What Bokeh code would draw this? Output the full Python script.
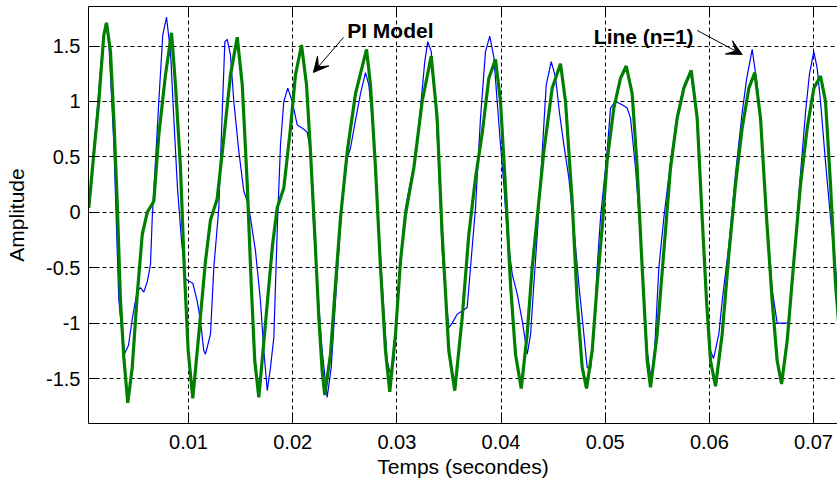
from bokeh.plotting import figure
from bokeh.models import Range1d, LinearAxis, FixedTicker, Arrow, VeeHead, Label
from bokeh.embed import file_html
from bokeh.resources import INLINE

# ---- data (time in milliseconds, amplitude) ----
pi_model_t_ms = [
    0.43, 0.91, 1.39, 1.87, 2.13, 2.51, 2.83, 3.16, 3.47, 3.79,
    4.17, 4.60, 5.08, 5.56, 6.04, 6.67, 7.15, 7.79, 8.37, 8.75,
    9.23, 9.62, 9.97, 10.41, 10.99, 11.63, 12.11, 12.75, 13.39, 14.03,
    14.68, 15.16, 15.64, 16.02, 16.36, 16.75, 17.39, 18.06, 18.51, 19.15,
    19.79, 20.27, 20.85, 21.33, 21.71, 22.12, 22.51, 22.83, 23.08, 23.63,
    24.11, 24.59, 25.24, 26.03, 27.09, 27.47, 27.95, 28.43, 28.91, 29.32,
    29.87, 30.35, 30.83, 31.63, 32.43, 33.30, 33.87, 34.35, 34.99, 35.56,
    36.27, 36.91, 37.55, 38.19, 38.83, 39.47, 39.95, 40.43, 40.91, 41.39,
    41.94, 42.51, 42.99, 43.63, 44.11, 44.91, 45.71, 46.19, 46.83, 47.31,
    47.79, 48.21, 48.75, 49.23, 49.71, 50.19, 50.83, 51.47, 52.02, 52.59,
    53.07, 53.55, 54.03, 54.35, 54.99, 55.63, 56.27, 56.91, 57.55, 58.26,
    58.83, 59.31, 59.73, 60.11, 60.59, 61.23, 61.87, 62.51, 63.15, 63.79,
    64.36, 64.91, 65.49, 66.03, 66.51, 66.93, 67.47, 68.11, 68.75, 69.39,
    70.03, 70.67, 71.15, 71.63, 72.11, 72.59,
]
pi_model_amp = [
    0.04, 0.53, 1.00, 1.60, 1.71, 1.45, 0.85, 0.08, -0.80, -1.31,
    -1.72, -1.40, -0.74, -0.20, 0.00, 0.10, 0.70, 1.24, 1.62, 1.15,
    0.40, -0.56, -1.25, -1.68, -1.10, -0.44, -0.07, 0.12, 0.67, 1.24,
    1.58, 1.15, 0.25, -0.65, -1.34, -1.67, -1.00, -0.30, 0.04, 0.22,
    0.76, 1.24, 1.51, 1.15, 0.55, -0.20, -0.95, -1.43, -1.65, -1.28,
    -0.65, -0.05, 0.55, 1.07, 1.47, 1.15, 0.40, -0.50, -1.25, -1.62,
    -1.10, -0.44, -0.02, 0.40, 1.00, 1.41, 0.85, -0.20, -1.25, -1.61,
    -0.95, -0.20, 0.31, 0.71, 1.21, 1.38, 1.00, 0.22, -0.65, -1.28,
    -1.59, -1.10, -0.50, 0.10, 0.55, 1.12, 1.34, 1.00, 0.10, -0.80,
    -1.40, -1.59, -1.25, -0.65, -0.14, 0.47, 0.94, 1.21, 1.32, 1.07,
    0.40, -0.50, -1.34, -1.58, -1.10, -0.35, 0.40, 0.85, 1.12, 1.28,
    0.85, -0.05, -0.80, -1.34, -1.57, -1.10, -0.38, 0.25, 0.76, 1.12,
    1.26, 0.85, -0.05, -0.80, -1.34, -1.55, -1.16, -0.44, 0.25, 0.76,
    1.12, 1.23, 1.00, 0.25, -0.65, -1.20,
]

line_n1_t_ms = [
    0.43, 0.88, 1.24, 1.65, 2.03, 2.32, 2.83, 3.31, 3.62, 3.90,
    4.24, 4.62, 5.08, 5.39, 5.71, 6.06, 6.35, 6.52, 6.83, 7.15,
    7.53, 7.89, 8.27, 8.59, 8.92, 9.33, 9.71, 10.00, 10.41, 10.83,
    11.15, 11.47, 11.63, 12.11, 12.43, 12.91, 13.24, 13.49, 13.72, 14.03,
    14.35, 14.83, 15.31, 15.64, 15.95, 16.43, 16.91, 17.23, 17.56, 17.87,
    18.19, 18.54, 18.83, 19.15, 19.53, 19.96, 20.43, 21.07, 21.40, 21.71,
    21.97, 22.36, 22.83, 23.31, 23.70, 24.11, 24.43, 24.76, 25.24, 25.55,
    26.03, 26.51, 26.99, 27.31, 27.63, 28.11, 28.59, 29.07, 29.39, 29.71,
    30.03, 30.51, 30.83, 31.31, 31.79, 32.27, 32.68, 32.97, 33.30, 33.71,
    34.03, 34.35, 34.67, 34.99, 35.31, 35.79, 36.27, 36.75, 37.07, 37.55,
    38.03, 38.51, 38.92, 39.31, 39.63, 39.95, 40.27, 40.60, 41.08, 41.56,
    42.04, 42.52, 42.84, 43.15, 43.48, 43.96, 44.34, 44.82, 45.23, 45.61,
    46.03, 46.51, 46.99, 47.47, 47.95, 48.27, 48.59, 48.91, 49.23, 49.55,
    49.87, 50.19, 50.51, 50.99, 51.63, 52.11, 52.43, 52.91, 53.39, 53.71,
    54.03, 54.42, 54.74, 55.15, 55.63, 56.27, 56.91, 57.55, 58.19, 58.83,
    59.31, 59.73, 60.11, 60.40, 60.91, 61.23, 61.87, 62.51, 63.15, 63.57,
    64.11, 64.59, 64.91, 65.49, 66.03, 66.51, 66.93, 67.60, 68.11, 68.75,
    69.23, 69.61, 70.03, 70.35, 70.67, 71.15, 71.63, 72.11, 72.59,
]
line_n1_amp = [
    0.04, 0.55, 0.93, 1.40, 1.70, 1.60, 0.62, -0.79, -1.10, -1.27,
    -1.20, -0.95, -0.71, -0.68, -0.72, -0.62, -0.47, -0.05, 0.46, 1.00,
    1.60, 1.76, 1.45, 0.85, 0.25, -0.26, -0.60, -0.62, -0.64, -0.80,
    -0.98, -1.25, -1.28, -1.10, -0.50, 0.04, 0.91, 1.54, 1.56, 1.42,
    1.00, 0.55, 0.19, 0.10, -0.05, -0.35, -0.80, -1.25, -1.61, -1.40,
    -1.13, -0.10, 0.61, 1.00, 1.12, 1.00, 0.79, 0.75, 0.72, 0.55,
    -0.05, -0.65, -1.25, -1.67, -1.40, -0.80, -0.35, 0.10, 0.49, 0.58,
    0.83, 1.07, 1.26, 1.15, 0.85, 0.10, -0.65, -1.34, -1.46, -1.34,
    -0.80, -0.26, 0.04, 0.28, 0.49, 0.94, 1.36, 1.54, 1.45, 1.00,
    0.40, -0.35, -0.74, -1.04, -1.00, -0.92, -0.89, -0.86, -0.50, 0.04,
    0.85, 1.45, 1.59, 1.40, 1.00, 0.61, 0.25, -0.20, -0.56, -0.74,
    -0.98, -1.28, -1.10, -0.65, -0.20, 0.55, 1.15, 1.36, 1.22, 0.90,
    0.61, 0.31, -0.14, -0.65, -1.10, -1.40, -1.42, -1.10, -0.50, -0.05,
    0.25, 0.55, 0.94, 1.00, 0.97, 0.94, 0.85, 0.40, -0.20, -0.74,
    -1.25, -1.52, -1.25, -0.50, -0.05, 0.45, 0.88, 1.14, 1.28, 0.85,
    -0.05, -0.80, -1.25, -1.32, -1.10, -0.80, -0.30, 0.35, 0.90, 1.20,
    1.47, 1.15, 0.85, -0.05, -0.70, -1.00, -1.00, -1.00, -0.44, 0.35,
    0.90, 1.25, 1.45, 1.30, 1.00, 0.45, -0.05, -0.50, -1.00,
]

x_ticks = [0.01, 0.02, 0.03, 0.04, 0.05, 0.06, 0.07]
x_tick_labels = ["0.01", "0.02", "0.03", "0.04", "0.05", "0.06", "0.07"]
y_ticks = [-1.5, -1.0, -0.5, 0.0, 0.5, 1.0, 1.5]
y_tick_labels = ["-1.5", "-1", "-0.5", "0", "0.5", "1", "1.5"]

x_label = "Temps (secondes)"
y_label = "Amplitude"
pi_text = "PI Model"
line_text = "Line (n=1)"

# annotation anchors (data coordinates)
pi_text_pos = (0.02523, 1.64)
pi_arrow = (0.02488, 1.578, 0.02199, 1.262)
line_text_pos = (0.04891, 1.59)
line_arrow = (0.05883, 1.641, 0.06315, 1.424)

X_RANGE = (0.00040, 0.07230)
Y_RANGE = (-1.906, 1.857)

FONT = "Liberation Sans"

pi_t = [v / 1000.0 for v in pi_model_t_ms]
line_t = [v / 1000.0 for v in line_n1_t_ms]

p = figure(width=837, height=486, output_backend="svg", toolbar_location=None,
           x_range=Range1d(*X_RANGE), y_range=Range1d(*Y_RANGE),
           min_border_left=88, min_border_right=0, min_border_top=6,
           min_border_bottom=63)
p.outline_line_color = None
p.background_fill_color = "white"
p.border_fill_color = "white"

# grid
p.xgrid.ticker = FixedTicker(ticks=x_ticks)
p.ygrid.ticker = FixedTicker(ticks=y_ticks)
p.grid.grid_line_color = "black"
p.grid.grid_line_dash = "4 3"
p.grid.grid_line_width = 1

# data lines
p.line(line_t, line_n1_amp, line_color="#0000ff", line_width=1.2)
p.line(pi_t, pi_model_amp, line_color="#008000", line_width=3.2)

# axes
for ax, ticks, labels in ((p.xaxis[0], x_ticks, x_tick_labels),
                          (p.yaxis[0], y_ticks, y_tick_labels)):
    ax.ticker = FixedTicker(ticks=ticks)
    ax.major_label_overrides = {t: l for t, l in zip(ticks, labels)}
    ax.major_tick_in = 11
    ax.major_tick_out = 0
    ax.minor_tick_line_color = None
    ax.axis_line_color = "black"
    ax.major_tick_line_color = "black"
    ax.major_label_text_font = FONT
    ax.major_label_text_font_size = "20px"
    ax.major_label_text_color = "black"
    ax.axis_label_text_font = FONT
    ax.axis_label_text_font_size = "21px"
    ax.axis_label_text_font_style = "normal"
    ax.axis_label_text_color = "black"

p.xaxis[0].axis_label = x_label
p.xaxis[0].major_label_standoff = 11
p.xaxis[0].axis_label_standoff = 3
p.yaxis[0].axis_label = y_label
p.yaxis[0].major_label_standoff = 8
p.yaxis[0].axis_label_standoff = 15

top_axis = LinearAxis(ticker=FixedTicker(ticks=x_ticks), major_tick_in=9,
                      major_tick_out=0, minor_tick_line_color=None,
                      major_label_overrides={t: "" for t in x_ticks},
                      major_label_standoff=0,
                      axis_line_color="black", major_tick_line_color="black")
p.add_layout(top_axis, "above")

# annotations
p.add_layout(Label(x=pi_text_pos[0], y=pi_text_pos[1], text=pi_text,
                   text_font=FONT, text_font_style="bold", text_font_size="21px",
                   text_color="black", text_baseline="alphabetic"))
p.add_layout(Arrow(x_start=pi_arrow[0], y_start=pi_arrow[1],
                   x_end=pi_arrow[2], y_end=pi_arrow[3],
                   line_color="black", line_width=1,
                   end=VeeHead(size=15, fill_color="black", line_color="black")))
p.add_layout(Label(x=line_text_pos[0], y=line_text_pos[1], text=line_text,
                   text_font=FONT, text_font_style="bold", text_font_size="21px",
                   text_color="black", text_baseline="alphabetic"))
p.add_layout(Arrow(x_start=line_arrow[0], y_start=line_arrow[1],
                   x_end=line_arrow[2], y_end=line_arrow[3],
                   line_color="black", line_width=1,
                   end=VeeHead(size=15, fill_color="black", line_color="black")))

open("out.html", "w").write(file_html(p, INLINE))
